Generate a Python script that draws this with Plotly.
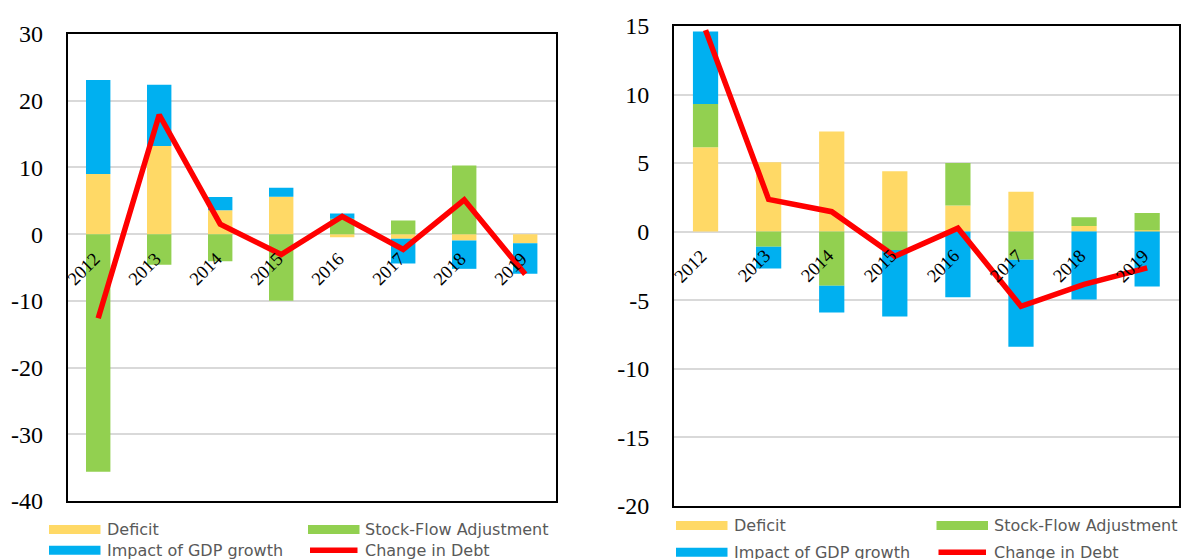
import plotly.graph_objects as go

# ---------------- data ----------------
years = ["2012", "2013", "2014", "2015", "2016", "2017", "2018", "2019"]
series_names = ["Deficit", "Stock-Flow Adjustment", "Impact of GDP growth", "Change in Debt"]

# left panel
deficit_l = [9.0, 13.2, 3.6, 5.6, -0.45, -0.7, -0.95, -1.35]
sfa_l = [-35.6, -4.6, -4.05, -10.0, 2.3, 2.05, 10.3, 0.0]
gdp_l = [14.1, 9.2, 1.95, 1.35, 0.8, -3.7, -4.25, -4.6]
debt_l = [-12.6, 17.9, 1.5, -3.05, 2.65, -2.3, 5.15, -6.0]

# right panel
deficit_r = [6.15, 5.05, 7.3, 4.4, 1.9, 2.9, 0.4, 0.1]
sfa_r = [3.15, -1.1, -3.95, -1.35, 3.1, -2.05, 0.65, 1.25]
gdp_r = [5.3, -1.6, -1.95, -4.85, -4.8, -6.35, -4.95, -4.0]
debt_r = [14.7, 2.35, 1.45, -1.8, 0.25, -5.45, -3.85, -2.65]

yticks_l = [-40, -30, -20, -10, 0, 10, 20, 30]
yticks_r = [-20, -15, -10, -5, 0, 5, 10, 15]

# ---------------- style ----------------
W, H = 1181, 559
C_DEF = "#FFD966"
C_SFA = "#92D050"
C_GDP = "#00B0F0"
C_DEBT = "#FF0000"
GRID = "#D9D9D9"
SERIF = "Liberation Serif, DejaVu Serif, serif"
SANS = "DejaVu Sans, Verdana, sans-serif"
LEG_COLOR = "#595959"


def px(x):
    return x / W


def py(y):
    return 1 - y / H


fig = go.Figure()

panels = [
    ("x", "y", deficit_l, sfa_l, gdp_l, debt_l),
    ("x2", "y2", deficit_r, sfa_r, gdp_r, debt_r),
]
for xa, ya, d, s, g, c in panels:
    for name, vals, col in zip(series_names[:3], [d, s, g], [C_DEF, C_SFA, C_GDP]):
        fig.add_trace(go.Bar(x=years, y=vals, name=name, marker=dict(color=col, line=dict(width=0)),
                             xaxis=xa, yaxis=ya, showlegend=False))
    fig.add_trace(go.Scatter(x=years, y=c, name=series_names[3], mode="lines",
                             line=dict(color=C_DEBT, width=5.5),
                             xaxis=xa, yaxis=ya, showlegend=False))

axis_common = dict(showline=True, linecolor="black", linewidth=2, mirror=True, automargin=False)


def yaxis_def(domain, anchor, ticks):
    return dict(domain=domain, anchor=anchor, range=[ticks[0], ticks[-1]],
                tickmode="array", tickvals=ticks, ticktext=[str(t) for t in ticks],
                showgrid=True, gridcolor=GRID, gridwidth=2,
                zeroline=True, zerolinecolor=GRID, zerolinewidth=2,
                tickfont=dict(family=SERIF, size=24, color="black"),
                ticks="", ticklabelstandoff=18, **axis_common)


def xaxis_def(domain, anchor):
    return dict(domain=domain, anchor=anchor, showticklabels=False, range=[-0.5, len(years) - 0.5],
                showgrid=False, ticks="", type="category", **axis_common)


fig.update_layout(
    width=W, height=H,
    margin=dict(l=0, r=0, t=0, b=0, autoexpand=False),
    paper_bgcolor="white", plot_bgcolor="white",
    barmode="relative", bargap=0.6,
    showlegend=False,
    xaxis=xaxis_def([px(67.7), px(555.7)], "y"),
    yaxis=yaxis_def([py(501), py(34)], "x", yticks_l),
    xaxis2=xaxis_def([px(674), px(1178.7)], "y2"),
    yaxis2=yaxis_def([py(505.7), py(26)], "x2", yticks_r),
)

annotations = []
# rotated category labels next to the zero line
for xr, yr in [("x", "y"), ("x2", "y2")]:
    for i, yv in enumerate(years):
        annotations.append(dict(x=i, y=0, xref=xr, yref=yr, text=yv, textangle=-45,
                                showarrow=False, xanchor="right", yanchor="top",
                                xshift=7, yshift=-13, borderpad=0,
                                font=dict(family=SERIF, size=18.5, color="black")))

# manual legends
shapes = []
legend_specs = [
    # (col1 swatch x0, col2 swatch x0, row1 y, row2 y)
    (49.0, 308.0, 529.5, 550.3),
    (676.0, 936.5, 525.5, 552.2),
]
sw_w = 51.5
sw_h = 9
for x1, x2, r1, r2 in legend_specs:
    items = [
        (series_names[0], C_DEF, "bar", x1, r1),
        (series_names[1], C_SFA, "bar", x2, r1),
        (series_names[2], C_GDP, "bar", x1, r2),
        (series_names[3], C_DEBT, "line", x2, r2),
    ]
    for name, col, kind, sx, sy in items:
        if kind == "bar":
            shapes.append(dict(type="rect", xref="paper", yref="paper",
                               x0=px(sx), x1=px(sx + sw_w), y0=py(sy + sw_h / 2), y1=py(sy - sw_h / 2),
                               fillcolor=col, line=dict(width=0)))
        else:
            shapes.append(dict(type="line", xref="paper", yref="paper",
                               x0=px(sx + 2), x1=px(sx + sw_w - 2), y0=py(sy), y1=py(sy),
                               line=dict(color=col, width=5.5)))
        annotations.append(dict(x=px(sx + sw_w + 5), y=py(sy), xref="paper", yref="paper",
                                text=name, showarrow=False, xanchor="left", yanchor="middle",
                                borderpad=0,
                                font=dict(family=SANS, size=16, color=LEG_COLOR)))

fig.update_layout(annotations=annotations, shapes=shapes)

fig.write_html("out.html", config={"displayModeBar": False},
               post_script="document.body.style.margin='0px';document.body.style.overflow='hidden';")
